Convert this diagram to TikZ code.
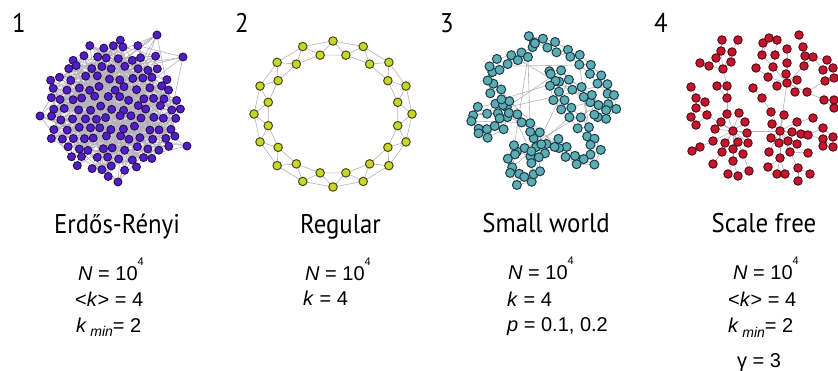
\documentclass[tikz,border=0pt]{standalone}
\usepackage{fontspec}
\setmainfont{Liberation Sans}
\newfontfamily\titlefont{PT Sans}
\usetikzlibrary{calc}
\newcount\ercount
\newcount\swcount
\definecolor{edgecol}{RGB}{182,176,186}
\definecolor{erfill}{RGB}{82,28,200}
\definecolor{erline}{RGB}{36,18,80}
\definecolor{regfill}{RGB}{200,214,40}
\definecolor{regline}{RGB}{70,75,20}
\definecolor{swfill}{RGB}{92,172,182}
\definecolor{swline}{RGB}{28,60,70}
\definecolor{sffill}{RGB}{196,22,44}
\definecolor{sfline}{RGB}{80,10,22}
\newcommand\supfour[1]{\raisebox{15pt}{\fontsize{11}{11}\selectfont #1}}
\newcommand\subscr[1]{\raisebox{-5pt}{\fontsize{14}{14}\selectfont\textit{#1}}}
\newcommand\ttlsc[1]{\scalebox{0.92}[1]{#1}}
\begin{document}
\begin{tikzpicture}[x=1pt,y=-1pt,
  edge/.style={draw=edgecol,line width=0.6pt},
  ernode/.style={circle,fill=erfill,draw=erline,line width=0.9pt,minimum size=8pt,inner sep=0pt},
  regnode/.style={circle,fill=regfill,draw=regline,line width=1pt,minimum size=8.5pt,inner sep=0pt},
  swnode/.style={circle,fill=swfill,draw=swline,line width=1pt,minimum size=9pt,inner sep=0pt},
  sfnode/.style={circle,fill=sffill,draw=sfline,line width=0.9pt,minimum size=8.5pt,inner sep=0pt},
  lbl/.style={font={\titlefont\fontsize{27}{32}\selectfont},anchor=base,inner sep=0pt},
  ttl/.style={font={\titlefont\fontsize{27}{32}\selectfont},anchor=base,inner sep=0pt},
  param/.style={font={\fontsize{20}{24}\selectfont},anchor=base west,inner sep=0pt},
]
\useasboundingbox (0,0) rectangle (838,371);
\clip (0,0) rectangle (838,371);
\pgfmathsetseed{12}
% ---------------- Erdos-Renyi ----------------
\global\ercount=0
\foreach \r in {-7,...,7}{
  \foreach \c in {-8,...,8}{
    \pgfmathsetmacro\erx{113+(\c+0.5*mod(abs(\r),2))*11.6+2.5*rand}
    \pgfmathsetmacro\ery{108+\r*10.0+2.5*rand}
    \pgfmathsetmacro\erd{veclen(\erx-113,\ery-108)}
    \ifdim\erd pt<69pt
      \global\advance\ercount by 1
      \pgfmathtruncatemacro\erid{\the\ercount}
      \coordinate (e\erid) at (\erx,\ery);
    \fi
  }
}
\foreach \ox/\oy in {157/35,118/182,40/116,187/146,183/57}{
  \global\advance\ercount by 1
  \pgfmathtruncatemacro\erid{\the\ercount}
  \coordinate (e\erid) at (\ox,\oy);
}
\edef\erN{\the\ercount}
\foreach \k in {1,...,520}{
  \pgfmathrandominteger{\ea}{1}{\erN}
  \pgfmathrandominteger{\eb}{1}{\erN}
  \draw[edge] (e\ea) -- (e\eb);
}
\foreach \i in {1,...,\erN}{\node[ernode] (en\i) at (e\i) {};}
% ---------------- Regular ----------------
\foreach \i in {0,...,31}{
  \pgfmathsetmacro\rgang{-90+\i*11.25}
  \pgfmathsetmacro\rgrx{ifthenelse(mod(\i,2)==0,79,66)}
  \pgfmathsetmacro\rgry{ifthenelse(mod(\i,2)==0,73,60)}
  \coordinate (g\i) at ({333+\rgrx*cos(\rgang)},{114+\rgry*sin(\rgang)});
}
\foreach \i in {0,...,31}{
  \pgfmathtruncatemacro\ja{mod(\i+1,32)}
  \pgfmathtruncatemacro\jb{mod(\i+2,32)}
  \draw[edge] (g\i) -- (g\ja) (g\i) -- (g\jb);
}
\foreach \i in {0,...,31}{\node[regnode] (rg\i) at (g\i) {};}
% ---------------- Small world ----------------
\global\swcount=0
\xdef\swpx{531}\xdef\swpy{37}
\foreach \x/\y in {553/45,577/58,593/72,610/90,613/110,600/120,593/100,580/90,567/83,553/70,552/87,563/107,577/120,590/133,597/150,590/163,573/160,557/140,543/150,530/153,513/148,510/167,520/182,535/177,537/133,523/120,510/113,493/107,473/113,475/128,490/133,503/127,507/100,493/90,488/73,500/63,517/57,533/50,531/37}{
  \pgfmathsetmacro\swlen{veclen(\x-\swpx,\y-\swpy)}
  \pgfmathtruncatemacro\swn{max(1,round(\swlen/6.2))}
  \foreach \k in {1,...,\swn}{
    \pgfmathsetmacro\swt{\k/\swn}
    \global\advance\swcount by 1
    \pgfmathsetmacro\swside{2*mod(\the\swcount,2)-1}
    \pgfmathsetmacro\swx{\swpx+\swt*(\x-\swpx)+\swside*3.5*(-(\y-\swpy)/\swlen)+1.5*rand}
    \pgfmathsetmacro\swy{\swpy+\swt*(\y-\swpy)+\swside*3.5*((\x-\swpx)/\swlen)+1.5*rand}
    \pgfmathtruncatemacro\swid{\the\swcount}
    \coordinate (s\swid) at (\swx,\swy);
  }
  \xdef\swpx{\x}\xdef\swpy{\y}
}
\edef\swN{\the\swcount}
\foreach \i in {1,...,\swN}{
  \pgfmathtruncatemacro\ja{mod(\i,\swN)+1}
  \pgfmathtruncatemacro\jb{mod(\i+1,\swN)+1}
  \pgfmathsetmacro\rva{rnd}
  \pgfmathsetmacro\rvb{rnd}
  \ifdim\rva pt<0.08pt \pgfmathrandominteger{\ja}{1}{\swN}\fi
  \ifdim\rvb pt<0.08pt \pgfmathrandominteger{\jb}{1}{\swN}\fi
  \draw[edge] (s\i) -- (s\ja) (s\i) -- (s\jb);
}
\foreach \i in {1,...,\swN}{\node[swnode] (sn\i) at (s\i) {};}
% ---------------- Scale free ----------------
\def\sflist{a0/733/131/a0,
a1/727/114/a0, a2/739/113/a0, a3/721/122/a0, a4/745/122/a0, a5/715/129/a0, a6/747/133/a0, a7/713/141/a0, a8/725/143/a0, a9/738/142/a0, a10/748/143/a0, a11/722/152/a0, a12/733/149/a0, a13/743/154/a0, a14/733/161/a0, a15/707/115/a0,
a16/700/147/a7, a17/692/151/a16, a18/713/164/a11, a19/728/174/a14, a20/738/176/a14, a21/749/171/a13,
l0/696/108/a15, l1/705/102/a15, l2/696/98/l0, l3/691/87/l2, l4/691/117/l0, l5/696/125/a15,
u1/727/98/a1, u2/727/86/u1, u3/717/86/u1, t0/723/69/u2,
t1/731/62/t0, t2/709/66/t0, t3/716/58/t0, t4/721/51/t0, t5/732/52/t0, t6/700/63/t2, t7/722/40/t4, t8/738/40/t5,
b0/780/131/a0,
b1/771/112/b0, b2/784/115/b0, b3/797/122/b0, b4/772/124/b0, b5/792/132/b0, b6/801/134/b0, b7/771/138/b0, b8/779/143/b0, b9/788/141/b0, b10/797/144/b0, b11/769/152/b0, b12/780/158/b0, b13/790/152/b0, b14/808/135/b0,
b15/762/98/b1, b16/753/88/b15, b17/808/153/b13, b18/768/167/b12, b19/777/174/b12, b20/785/174/b12, b21/798/168/b13, b22/810/174/b21, b23/798/181/b21,
r1/823/128/b14, r2/823/139/b14, r3/813/118/b3, r4/833/137/r1, r5/823/146/r2, r6/833/147/r2,
c0/787/83/b0,
c1/777/86/c0, c2/786/74/c0, c3/768/77/c0, c4/797/80/c0, c5/795/92/c0, c6/807/92/c0, c7/773/67/c0, c8/787/63/c0, c9/804/66/c0,
c10/756/68/c3, c11/762/55/c7, c12/775/55/c7, c13/763/43/c11, c14/769/38/c11, c15/777/40/c12, c16/787/49/c8, c18/803/47/c9, c17/799/35/c18, c19/805/56/c9, c20/813/57/c9,
c21/827/60/c20, c22/823/70/c20, c23/833/68/c22, c24/825/81/c6, c25/834/78/c24, c26/824/100/c6, c27/834/100/c26, c28/834/108/c26}
\foreach \n/\x/\y/\p in \sflist {\coordinate (\n) at (\x,\y);}
\foreach \n/\x/\y/\p in \sflist {\draw[edge] (\p) -- (\n);}
\foreach \n/\x/\y/\p in \sflist {\node[sfnode] (n\n) at (\n) {};}
% ---------------- Labels ----------------
\node[lbl] (num1) at (19,33) {\ttlsc{1}};
\node[lbl] (num2) at (242,33) {\ttlsc{2}};
\node[lbl] (num3) at (447,33) {\ttlsc{3}};
\node[lbl] (num4) at (661,33) {\ttlsc{4}};
\node[ttl] (ttl1) at (117,234) {\ttlsc{Erdős-Rényi}};
\node[ttl] (ttl2) at (340.5,234) {\ttlsc{Regular}};
\node[ttl] (ttl3) at (546,233) {\ttlsc{Small world}};
\node[ttl] (ttl4) at (764,233) {\ttlsc{Scale free}};
% parameters
\node[param] (er1) at (78,281) {\textit{N} = 10\supfour{4}};
\node[param] (er2) at (75,307) {<\textit{k}> = 4};
\node[param] (er3) at (76,332) {\textit{k}\,\subscr{min}= 2};
\node[param] (rg1) at (305,281) {\textit{N} = 10\supfour{4}};
\node[param] (rg2) at (303,306) {\textit{k} = 4};
\node[param] (sw1) at (508,280) {\textit{N} = 10\supfour{4}};
\node[param] (sw2) at (507,307) {\textit{k} = 4};
\node[param] (sw3) at (507,331) {\textit{p} = 0.1, 0.2};
\node[param] (sf1) at (733,280) {\textit{N} = 10\supfour{4}};
\node[param] (sf2) at (728,307) {<\textit{k}> = 4};
\node[param] (sf3) at (728,333) {\textit{k}\,\subscr{min}= 2};
\node[param] (sf4) at (737,367) {γ = 3};
\end{tikzpicture}
\end{document}
